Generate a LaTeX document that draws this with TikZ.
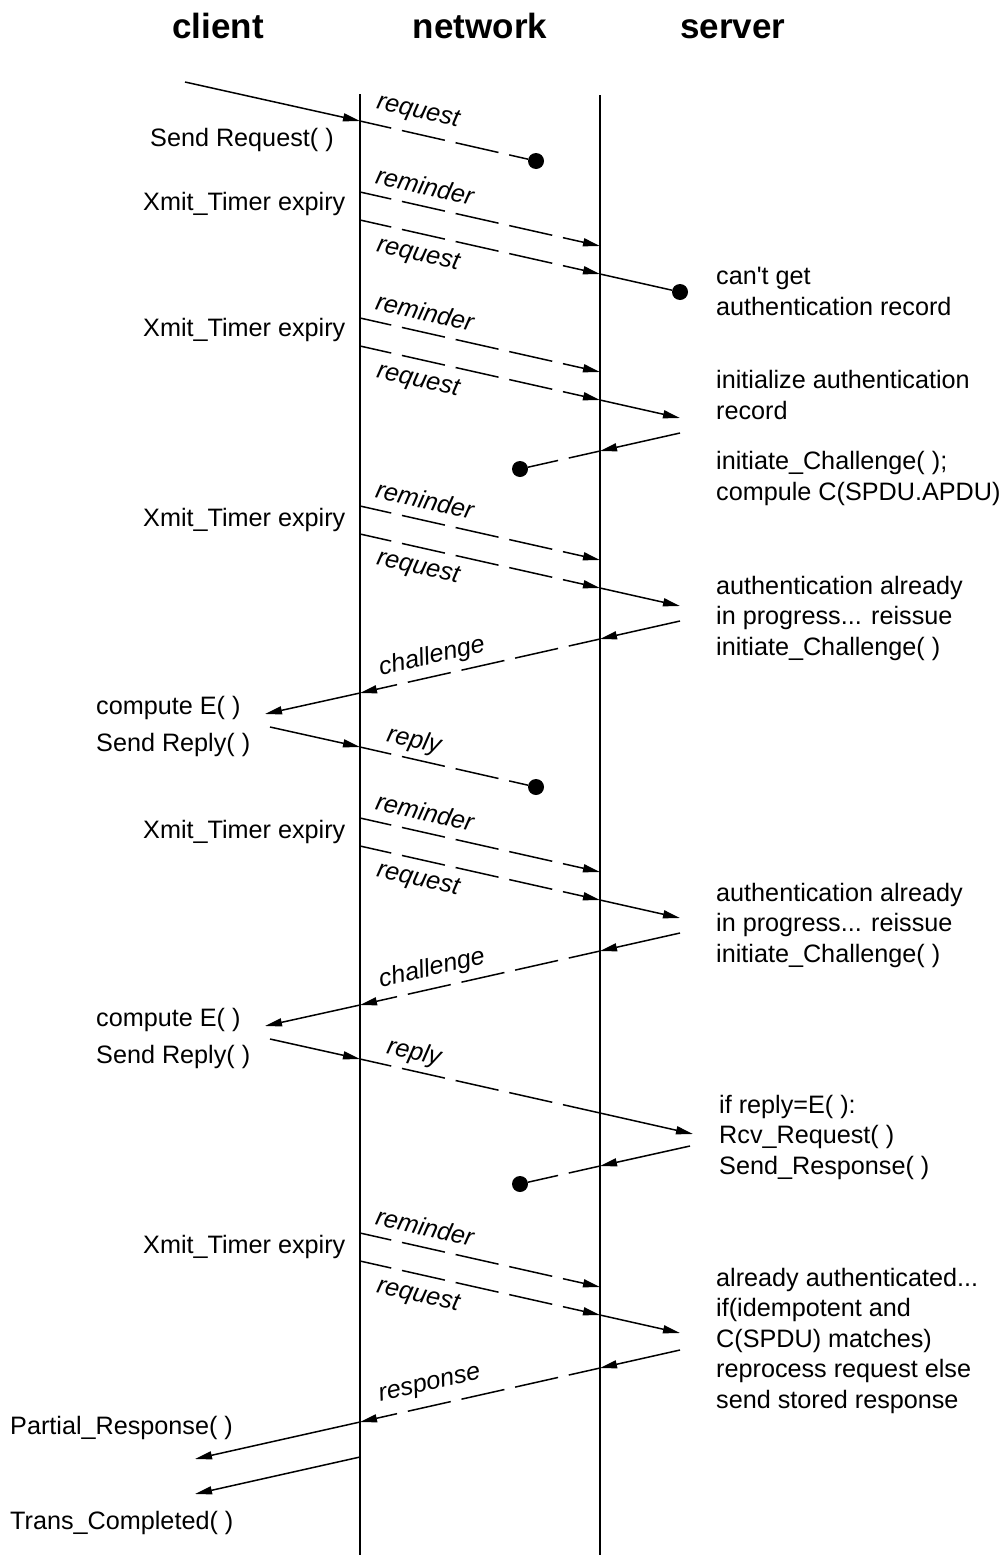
\documentclass[tikz,border=0pt]{standalone}
\usepackage{fontspec}
\setmainfont{Liberation Sans}
\usetikzlibrary{arrows.meta}
\begin{document}
\begin{tikzpicture}[x=1pt,y=-1pt,
  lifeline/.style={line width=2.5pt},
  msg/.style={line width=1.5pt},
  dashmsg/.style={msg, dash pattern=on 44pt off 11pt, dash phase=12pt},
  arrowed/.style={-{Triangle[length=17pt,width=8pt]}},
  dot/.style={circle, fill, inner sep=0pt, minimum size=16pt},
  txt/.style={font=\fontsize{25.2}{30.4}\selectfont, inner sep=0pt},
  block/.style={txt, align=left, anchor=base west},
  title/.style={font=\fontsize{35}{40}\selectfont\bfseries, inner sep=0pt, anchor=base},
  lbl/.style={font=\fontsize{25.2}{30.4}\selectfont\itshape, inner sep=0pt},
  down/.style={lbl, rotate=-12.68},
  up/.style={lbl, rotate=12.68}]
\useasboundingbox (0,0) rectangle (1005,1555);

% column headings
\node[title] (hclient) at (218,39) {client};
\node[title] (hnet) at (480,39) {network};
\node[title] (hserver) at (733,39) {server};

% the two edges of the network
\coordinate (nlT) at (360,94);
\coordinate (nlB) at (360,1555);
\coordinate (nrT) at (600,95);
\coordinate (nrB) at (600,1555);
\draw[lifeline] (nlT) -- (nlB);
\draw[lifeline] (nrT) -- (nrB);

% first request, lost in the network
\coordinate (q1a) at (185,82);
\coordinate (q1b) at (360,121);
\node[dot] (q1c) at (536,161) {};
\draw[msg,arrowed] (q1a) -- (q1b);
\draw[dashmsg] (q1b) -- (q1c);
\node[down] (lq1) at (418,112) {request};

% reminder + request, record missing
\coordinate (m1a) at (360,192);
\coordinate (m1b) at (600,246);
\draw[dashmsg,arrowed] (m1a) -- (m1b);
\node[down] (lm1) at (425,186) {reminder};
\coordinate (q2a) at (360,220);
\coordinate (q2b) at (600,274);
\node[dot] (q2c) at (680,292) {};
\draw[dashmsg,arrowed] (q2a) -- (q2b);
\draw[msg] (q2b) -- (q2c);
\node[down] (lq2) at (418,255) {request};

% reminder + request, challenge lost
\coordinate (m2a) at (360,318);
\coordinate (m2b) at (600,372);
\draw[dashmsg,arrowed] (m2a) -- (m2b);
\node[down] (lm2) at (425,312) {reminder};
\coordinate (q3a) at (360,346);
\coordinate (q3b) at (600,400);
\coordinate (q3c) at (680,418);
\draw[dashmsg,arrowed] (q3a) -- (q3b);
\draw[msg,arrowed] (q3b) -- (q3c);
\node[down] (lq3) at (418,381) {request};
\coordinate (k1a) at (680,433);
\coordinate (k1b) at (600,451);
\node[dot] (k1c) at (520,469) {};
\draw[msg,arrowed] (k1a) -- (k1b);
\draw[dashmsg] (k1b) -- (k1c);

% reminder + request, challenge delivered
\coordinate (m3a) at (360,506);
\coordinate (m3b) at (600,560);
\draw[dashmsg,arrowed] (m3a) -- (m3b);
\node[down] (lm3) at (425,500) {reminder};
\coordinate (q4a) at (360,534);
\coordinate (q4b) at (600,588);
\coordinate (q4c) at (680,606);
\draw[dashmsg,arrowed] (q4a) -- (q4b);
\draw[msg,arrowed] (q4b) -- (q4c);
\node[down] (lq4) at (418,568) {request};
\coordinate (c1a) at (680,621);
\coordinate (c1b) at (600,639);
\coordinate (c1c) at (360,693);
\coordinate (c1d) at (265,714);
\draw[msg,arrowed] (c1a) -- (c1b);
\draw[dashmsg,arrowed] (c1b) -- (c1c);
\draw[msg,arrowed] (c1c) -- (c1d);
\node[up] (lc1) at (432,657) {challenge};

% reply lost
\coordinate (r1a) at (270,727);
\coordinate (r1b) at (360,747);
\node[dot] (r1c) at (536,787) {};
\draw[msg,arrowed] (r1a) -- (r1b);
\draw[dashmsg] (r1b) -- (r1c);
\node[down] (lr1) at (414,741) {reply};

% reminder + request, second challenge
\coordinate (m4a) at (360,818);
\coordinate (m4b) at (600,872);
\draw[dashmsg,arrowed] (m4a) -- (m4b);
\node[down] (lm4) at (425,812) {reminder};
\coordinate (q5a) at (360,846);
\coordinate (q5b) at (600,900);
\coordinate (q5c) at (680,918);
\draw[dashmsg,arrowed] (q5a) -- (q5b);
\draw[msg,arrowed] (q5b) -- (q5c);
\node[down] (lq5) at (418,880) {request};
\coordinate (c2a) at (680,933);
\coordinate (c2b) at (600,951);
\coordinate (c2c) at (360,1005);
\coordinate (c2d) at (265,1026);
\draw[msg,arrowed] (c2a) -- (c2b);
\draw[dashmsg,arrowed] (c2b) -- (c2c);
\draw[msg,arrowed] (c2c) -- (c2d);
\node[up] (lc2) at (432,969) {challenge};

% reply delivered, response lost
\coordinate (r2a) at (270,1039);
\coordinate (r2b) at (360,1059);
\coordinate (r2c) at (600,1113);
\coordinate (r2d) at (693,1134);
\draw[msg,arrowed] (r2a) -- (r2b);
\draw[dashmsg] (r2b) -- (r2c);
\draw[msg,arrowed] (r2c) -- (r2d);
\node[down] (lr2) at (414,1053) {reply};
\coordinate (k2a) at (690,1146);
\coordinate (k2b) at (600,1166);
\node[dot] (k2c) at (520,1184) {};
\draw[msg,arrowed] (k2a) -- (k2b);
\draw[dashmsg] (k2b) -- (k2c);

% reminder + request, stored response returned
\coordinate (m5a) at (360,1233);
\coordinate (m5b) at (600,1287);
\draw[dashmsg,arrowed] (m5a) -- (m5b);
\node[down] (lm5) at (425,1227) {reminder};
\coordinate (q6a) at (360,1261);
\coordinate (q6b) at (600,1315);
\coordinate (q6c) at (680,1333);
\draw[dashmsg,arrowed] (q6a) -- (q6b);
\draw[msg,arrowed] (q6b) -- (q6c);
\node[down] (lq6) at (418,1296) {request};
\coordinate (p1a) at (680,1350);
\coordinate (p1b) at (600,1368);
\coordinate (p1c) at (360,1422);
\coordinate (p1d) at (195,1459);
\draw[msg,arrowed] (p1a) -- (p1b);
\draw[dashmsg,arrowed] (p1b) -- (p1c);
\draw[msg,arrowed] (p1c) -- (p1d);
\node[up] (lp1) at (430,1386) {response};
\coordinate (p2a) at (360,1457);
\coordinate (p2b) at (195,1494);
\draw[msg,arrowed] (p2a) -- (p2b);

% client-side events
\node[txt, anchor=base west] (e1) at (150,146) {Send Request( )};
\node[txt, anchor=base west] (x1) at (143,210) {Xmit\_Timer expiry};
\node[txt, anchor=base west] (x2) at (143,336) {Xmit\_Timer expiry};
\node[txt, anchor=base west] (x3) at (143,526) {Xmit\_Timer expiry};
\node[txt, anchor=base west] (ce1) at (96,714) {compute E( )};
\node[txt, anchor=base west] (sr1) at (96,751) {Send Reply( )};
\node[txt, anchor=base west] (x4) at (143,838) {Xmit\_Timer expiry};
\node[txt, anchor=base west] (ce2) at (96,1026) {compute E( )};
\node[txt, anchor=base west] (sr2) at (96,1063) {Send Reply( )};
\node[txt, anchor=base west] (x5) at (143,1253) {Xmit\_Timer expiry};
\node[txt, anchor=base west] (pr) at (10,1434) {Partial\_Response( )};
\node[txt, anchor=base west] (tc) at (10,1529) {Trans\_Completed( )};

% server-side events (base = baseline of the last line)
\node[block] (s1) at (716,315) {can\textquotesingle t get\\authentication record};
\node[block] (s2) at (716,419) {initialize authentication\\record};
\node[block] (s3) at (716,500) {initiate\_Challenge( );\\compule C(SPDU.APDU)};
\node[block] (s4) at (716,655) {authentication already\\in progress... reissue\\initiate\_Challenge( )};
\node[block] (s5) at (716,962) {authentication already\\in progress... reissue\\initiate\_Challenge( )};
\node[block] (s6) at (719,1174) {if reply=E( ):\\Rcv\_Request( )\\Send\_Response( )};
\node[block] (s7) at (716,1408) {already authenticated...\\if(idempotent and\\C(SPDU) matches)\\reprocess request else\\send stored response};
\end{tikzpicture}
\end{document}
